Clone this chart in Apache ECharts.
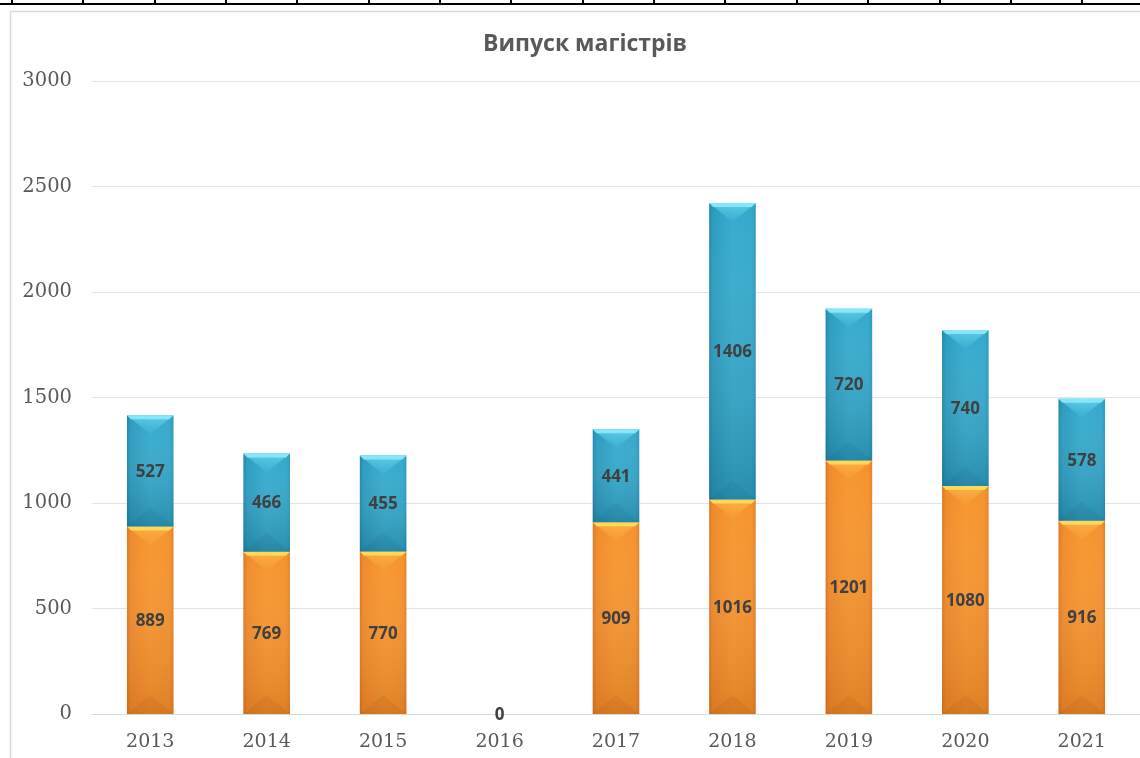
<!DOCTYPE html>
<html>
<head>
<meta charset="utf-8">
<script src="https://cdn.jsdelivr.net/npm/echarts@6/dist/echarts.min.js"></script>
<style>
  html, body { margin:0; padding:0; background:#fff; }
  #sheet { position:absolute; left:0; top:0; width:1140px; height:5px;
    background:
      linear-gradient(#000,#000) 0 3px / 100% 2px no-repeat,
      repeating-linear-gradient(90deg, transparent 0, transparent 11px, #000 11px, #000 13px, transparent 13px, transparent 71.35px);
  }
  #chart { position:absolute; left:0; top:0; width:1140px; height:758px; }
</style>
</head>
<body>
<div id="chart"></div>
<div id="sheet"></div>
<script>
const title = 'Випуск магістрів';
const categories = ['2013','2014','2015','2016','2017','2018','2019','2020','2021'];
const orangeValues = [889, 769, 770, 0, 909, 1016, 1201, 1080, 916];
const blueValues = [527, 466, 455, 0, 441, 1406, 720, 740, 578];
const yTicks = { min: 0, max: 3000, interval: 500 };

const palettes = [
  { // orange
    main: ['#dc7820', '#f08a2a', '#f7972f', '#f4922d', '#e4822a'],
    shade: 'rgba(130,50,0,0.2)',
    strip: '#ffd85a',
    tri: ['rgba(255,200,90,0.55)', 'rgba(255,190,80,0.05)'],
    bottom: 'rgba(90,30,0,0.07)'
  },
  { // blue
    main: ['#1f88a9', '#2b9cbf', '#36abce', '#34a8cb', '#2a9aba'],
    shade: 'rgba(0,45,70,0.22)',
    strip: '#84e6f8',
    tri: ['rgba(120,225,245,0.65)', 'rgba(100,215,240,0.05)'],
    bottom: 'rgba(0,30,50,0.06)'
  }
];

const orangeData = orangeValues.map((v, i) => [i, 0, v, v]);
const blueData = blueValues.map((v, i) => [i, orangeValues[i], orangeValues[i] + v, v]);

function makeRender(sIdx) {
  const pal = palettes[sIdx];
  return function (params, api) {
    const i = api.value(0);
    const b = api.value(1);
    const t = api.value(2);
    const v = api.value(3);
    const pB = api.coord([i, b]);
    const pT = api.coord([i, t]);
    const bw = api.size([1, 0])[0] * 0.4;
    const cx = pB[0];
    const x0 = cx - bw / 2, x1 = cx + bw / 2;
    const yT = pT[1], yB = pB[1];
    const h = yB - yT;
    const children = [];
    if (h > 0) {
      const d = Math.min(19, h * 0.45);
      const s = Math.min(4, h * 0.1);
      children.push({
        type: 'rect', shape: { x: x0, y: yT, width: bw, height: h },
        style: { fill: { type: 'linear', x: 0, y: 0, x2: 1, y2: 0, colorStops: [
          { offset: 0, color: pal.main[0] }, { offset: 0.08, color: pal.main[1] },
          { offset: 0.5, color: pal.main[2] }, { offset: 0.92, color: pal.main[3] },
          { offset: 1, color: pal.main[4] } ] } }
      });
      children.push({
        type: 'rect', shape: { x: x0, y: yT, width: bw, height: h },
        style: { fill: { type: 'linear', x: 0, y: 0, x2: 0, y2: 1, colorStops: [
          { offset: 0, color: 'rgba(255,255,255,0)' }, { offset: 1, color: pal.shade } ] } }
      });
      children.push({
        type: 'polygon', shape: { points: [[x0, yT], [x1, yT], [cx, yT + d]] },
        style: { fill: { type: 'linear', x: 0, y: 0, x2: 0, y2: 1, colorStops: [
          { offset: 0, color: pal.tri[0] }, { offset: 1, color: pal.tri[1] } ] } }
      });
      children.push({
        type: 'polygon', shape: { points: [[x0, yT], [x1, yT], [x1 - s, yT + s], [x0 + s, yT + s]] },
        style: { fill: pal.strip }
      });
      children.push({
        type: 'polygon', shape: { points: [[x0, yB], [x1, yB], [cx, yB - d]] },
        style: { fill: pal.bottom }
      });
    }
    if (v > 0 || sIdx === 0) {
      children.push({
        type: 'text',
        style: { text: String(v), x: cx, y: (yT + yB) / 2 + 1, align: 'center', verticalAlign: 'middle',
          font: 'bold 17px "Open Sans"', fill: '#404040' },
        z2: 10
      });
    }
    return { type: 'group', children };
  };
}

const chart = echarts.init(document.getElementById('chart'), null, { renderer: 'canvas' });
chart.setOption({
  animation: false,
  backgroundColor: '#fff',
  title: {
    text: title, left: 580, top: 28, textAlign: 'center',
    textStyle: { fontFamily: 'Open Sans', fontWeight: 'bold', fontSize: 23, color: '#595959' }
  },
  graphic: [{
    type: 'rect', shape: { x: 10.5, y: 11.5, width: 1300, height: 900 },
    style: { fill: 'none', stroke: '#d9d9d9', lineWidth: 1.5 }, silent: true, z: -1
  }],
  grid: { left: 92, top: 81, width: 1050, bottom: 44 },
  xAxis: {
    type: 'category', data: categories,
    axisLine: { show: true, lineStyle: { color: '#d9d9d9', width: 1 } },
    axisTick: { show: false },
    axisLabel: { fontFamily: 'DejaVu Serif', fontSize: 19, color: '#595959', margin: 19 }
  },
  yAxis: {
    type: 'value', min: yTicks.min, max: yTicks.max, interval: yTicks.interval,
    axisLine: { show: false }, axisTick: { show: false },
    splitLine: { lineStyle: { color: '#e3e3e3', width: 1 } },
    axisLabel: { fontFamily: 'DejaVu Serif', fontSize: 19.5, color: '#595959', margin: 20,
      formatter: (val) => String(val) }
  },
  series: [
    { type: 'custom', name: 'orange', renderItem: makeRender(0), data: orangeData,
      encode: { x: 0, y: [1, 2] } },
    { type: 'custom', name: 'blue', renderItem: makeRender(1), data: blueData,
      encode: { x: 0, y: [1, 2] } }
  ]
});
</script>
</body>
</html>
